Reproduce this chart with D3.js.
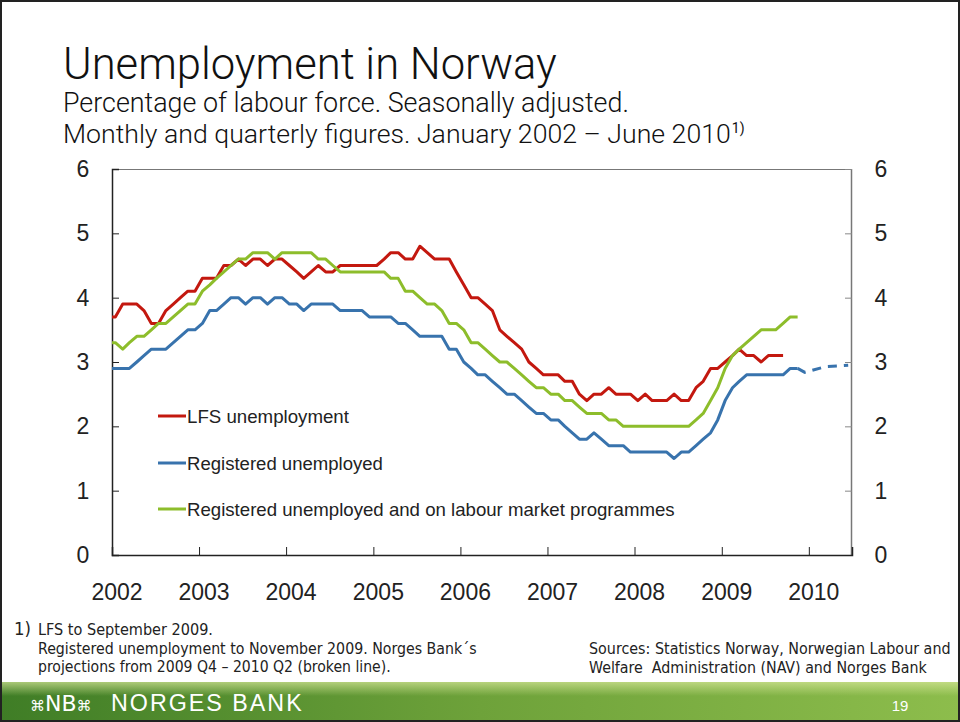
<!DOCTYPE html>
<html>
<head>
<meta charset="utf-8">
<script src="https://cdn.jsdelivr.net/npm/d3@7"></script>
<style>
  html, body { margin: 0; padding: 0; background: #fff; }
  svg { display: block; font-family: "Liberation Sans", Arial, sans-serif; }
  .narrow { font-family: "Liberation Sans Narrow", "DejaVu Sans Condensed", sans-serif; }
</style>
</head>
<body>
<svg id="chart"></svg>
<script>
const W = 960, H = 722;

// Monthly series, first value is December 2001 (the line enters from the left edge)
const firstMonth = '2001-12';
const lfs = [3.7,
  3.7,3.9,3.9,3.9,3.8,3.6,3.6,3.8,3.9,4.0,4.1,4.1,
  4.3,4.3,4.3,4.5,4.5,4.6,4.5,4.6,4.6,4.5,4.6,4.6,
  4.5,4.4,4.3,4.4,4.5,4.4,4.4,4.5,4.5,4.5,4.5,4.5,
  4.5,4.6,4.7,4.7,4.6,4.6,4.8,4.7,4.6,4.6,4.6,4.4,
  4.2,4.0,4.0,3.9,3.8,3.5,3.4,3.3,3.2,3.0,2.9,2.8,
  2.8,2.8,2.7,2.7,2.5,2.4,2.5,2.5,2.6,2.5,2.5,2.5,
  2.4,2.5,2.4,2.4,2.4,2.5,2.4,2.4,2.6,2.7,2.9,2.9,
  3.0,3.1,3.2,3.1,3.1,3.0,3.1,3.1,3.1];
const registered = [2.9,
  2.9,2.9,2.9,3.0,3.1,3.2,3.2,3.2,3.3,3.4,3.5,3.5,
  3.6,3.8,3.8,3.9,4.0,4.0,3.9,4.0,4.0,3.9,4.0,4.0,
  3.9,3.9,3.8,3.9,3.9,3.9,3.9,3.8,3.8,3.8,3.8,3.7,
  3.7,3.7,3.7,3.6,3.6,3.5,3.4,3.4,3.4,3.4,3.2,3.2,
  3.0,2.9,2.8,2.8,2.7,2.6,2.5,2.5,2.4,2.3,2.2,2.2,
  2.1,2.1,2.0,1.9,1.8,1.8,1.9,1.8,1.7,1.7,1.7,1.6,
  1.6,1.6,1.6,1.6,1.6,1.5,1.6,1.6,1.7,1.8,1.9,2.1,
  2.4,2.6,2.7,2.8,2.8,2.8,2.8,2.8,2.8,2.9,2.9];
const regProgrammes = [3.3,
  3.3,3.2,3.3,3.4,3.4,3.5,3.6,3.6,3.7,3.8,3.9,3.9,
  4.1,4.2,4.3,4.4,4.5,4.6,4.6,4.7,4.7,4.7,4.6,4.7,
  4.7,4.7,4.7,4.7,4.6,4.6,4.5,4.4,4.4,4.4,4.4,4.4,
  4.4,4.4,4.3,4.3,4.1,4.1,4.0,3.9,3.9,3.8,3.6,3.6,
  3.5,3.3,3.3,3.2,3.1,3.0,3.0,2.9,2.8,2.7,2.6,2.6,
  2.5,2.5,2.4,2.4,2.3,2.2,2.2,2.2,2.1,2.1,2.0,2.0,
  2.0,2.0,2.0,2.0,2.0,2.0,2.0,2.0,2.1,2.2,2.4,2.6,
  2.9,3.1,3.2,3.3,3.4,3.5,3.5,3.5,3.6,3.7,3.7];

// Norges Bank projection (broken line), joined to the last registered month
const projMonths = ['2009-11', '2009-12', '2010-03', '2010-06'];
const projValues = [2.9, 2.84, 2.93, 2.95];

const yTicks = [0, 1, 2, 3, 4, 5, 6];
const yearLabels = ['2002','2003','2004','2005','2006','2007','2008','2009','2010'];

const seriesNames = ['LFS unemployment', 'Registered unemployed',
  'Registered unemployed and on labour market programmes'];
const seriesColors = ['#c3180f', '#3873ad', '#8dbd2b'];

const parseM = d3.timeParse('%Y-%m');
const mid = m => new Date(m.getFullYear(), m.getMonth(), 15);
const toPts = (vals) => vals.map((v, i) => ({ d: mid(d3.timeMonth.offset(parseM(firstMonth), i)), v }));

const svg = d3.select('#chart').attr('width', W).attr('height', H);
const defs = svg.append('defs');

const x = d3.scaleTime().domain([new Date(2002, 0, 1), new Date(2010, 6, 1)]).range([112, 852]);
const y = d3.scaleLinear().domain([0, 6]).range([555, 169]);

function fit(sel, w) {
  const cur = sel.node().getComputedTextLength();
  sel.attr('font-size', parseFloat(sel.attr('font-size')) * w / cur);
  return sel;
}

// Title block
fit(svg.append('text').attr('x', 63).attr('y', 79).attr('font-size', 40).attr('fill', '#111')
  .attr('font-weight', 300).style('font-family', 'Roboto, "Liberation Sans", sans-serif')
  .text('Unemployment in Norway'), 494);
fit(svg.append('text').attr('x', 63).attr('y', 112).attr('font-size', 24).attr('fill', '#111')
  .attr('font-weight', 300).style('font-family', 'Roboto, "Liberation Sans", sans-serif')
  .text('Percentage of labour force. Seasonally adjusted.'), 566);
const sub2 = fit(svg.append('text').attr('x', 63).attr('y', 143).attr('font-size', 24).attr('fill', '#111')
  .attr('font-weight', 300).style('font-family', 'Roboto, "Liberation Sans", sans-serif')
  .text('Monthly and quarterly figures. January 2002 – June 2010'), 668);
svg.append('text').attr('x', 63 + sub2.node().getComputedTextLength() + 1).attr('y', 133)
  .attr('font-size', 14).attr('fill', '#111').style('font-family', 'Roboto, "Liberation Sans", sans-serif')
  .text('1)');

// Frame
svg.append('line').attr('x1', 112).attr('x2', 852).attr('y1', 169.5).attr('y2', 169.5)
  .attr('stroke', '#777').attr('stroke-width', 1.2);
svg.append('line').attr('x1', 851.5).attr('x2', 851.5).attr('y1', 169).attr('y2', 555)
  .attr('stroke', '#777').attr('stroke-width', 1.5);

// Left axis
const yl = svg.append('g').attr('transform', 'translate(112,0)')
  .call(d3.axisRight(y).tickValues(yTicks).tickSize(7).tickFormat(''));
yl.select('.domain').attr('stroke', '#222').attr('stroke-width', 1.5);
yl.selectAll('.tick line').attr('stroke', '#222');
const yr = svg.append('g').attr('transform', 'translate(852,0)')
  .call(d3.axisLeft(y).tickValues(yTicks).tickSize(7).tickFormat(''));
yr.select('.domain').remove();
yr.selectAll('.tick line').attr('stroke', '#888');

svg.append('g').selectAll('text').data(yTicks).join('text')
  .attr('x', 83).attr('y', d => y(d) + 8).attr('text-anchor', 'middle')
  .attr('font-size', 23).attr('fill', '#222').text(d => d);
svg.append('g').selectAll('text').data(yTicks).join('text')
  .attr('x', 881).attr('y', d => y(d) + 8).attr('text-anchor', 'middle')
  .attr('font-size', 23).attr('fill', '#222').text(d => d);

// Bottom axis
const xb = svg.append('g').attr('transform', 'translate(0,555)')
  .call(d3.axisTop(x).ticks(d3.timeYear.every(1)).tickSize(8).tickFormat(''));
xb.select('.domain').attr('stroke', '#222').attr('stroke-width', 1.5);
xb.selectAll('.tick line').attr('stroke', '#222');
svg.append('g').selectAll('text').data(yearLabels).join('text')
  .attr('x', d => x(new Date(+d, 0, 1)) + 5).attr('y', 600).attr('text-anchor', 'middle')
  .attr('font-size', 23).attr('fill', '#222').text(d => d);

// Lines
defs.append('clipPath').attr('id', 'plot').append('rect')
  .attr('x', 112).attr('y', 169).attr('width', 740).attr('height', 386);
const line = d3.line().x(p => x(p.d)).y(p => y(p.v));
const g = svg.append('g').attr('clip-path', 'url(#plot)');
[lfs, registered, regProgrammes].forEach((vals, i) => {
  g.append('path').datum(toPts(vals)).attr('d', line)
    .attr('fill', 'none').attr('stroke', seriesColors[i]).attr('stroke-width', 3)
    .attr('stroke-linejoin', 'round');
});
g.append('path').datum(projMonths.map((m, i) => ({ d: mid(parseM(m)), v: projValues[i] })))
  .attr('d', line).attr('fill', 'none').attr('stroke', seriesColors[1])
  .attr('stroke-width', 3).attr('stroke-dasharray', '9,7');

// Legend
const legY = [416, 463, 509];
const legW = [162, 196, 488];
seriesNames.forEach((n, i) => {
  svg.append('line').attr('x1', 158).attr('x2', 186).attr('y1', legY[i]).attr('y2', legY[i])
    .attr('stroke', seriesColors[i]).attr('stroke-width', 3);
  fit(svg.append('text').attr('x', 187).attr('y', legY[i] + 7).attr('font-size', 19)
    .attr('fill', '#222').text(n), legW[i]);
});

// Footnotes
const notes = [
  { x: 14, y: 635, t: '1)', w: 17 },
  { x: 38, y: 635, t: 'LFS to September 2009.', w: 175 },
  { x: 38, y: 654, t: 'Registered unemployment to November 2009. Norges Bank´s', w: 439 },
  { x: 38, y: 672, t: 'projections from 2009 Q4 – 2010 Q2 (broken line).', w: 353 },
  { x: 589, y: 654, t: 'Sources: Statistics Norway, Norwegian Labour and', w: 362 },
  { x: 589, y: 673, t: 'Welfare  Administration (NAV) and Norges Bank', w: 338 }
];
notes.forEach(n => {
  fit(svg.append('text').attr('class', 'narrow').attr('x', n.x).attr('y', n.y)
    .attr('font-size', 15).attr('fill', '#222').style('white-space', 'pre').text(n.t), n.w);
});

// Footer band
const gr = defs.append('linearGradient').attr('id', 'band').attr('x1', 0).attr('x2', 1).attr('y1', 0).attr('y2', 0);
gr.append('stop').attr('offset', 0).attr('stop-color', '#3f7d26');
gr.append('stop').attr('offset', 0.5).attr('stop-color', '#6ea23a');
gr.append('stop').attr('offset', 1).attr('stop-color', '#8dbd4c');
const gv = defs.append('linearGradient').attr('id', 'bandHi').attr('x1', 0).attr('x2', 0).attr('y1', 0).attr('y2', 1);
gv.append('stop').attr('offset', 0).attr('stop-color', '#d8e89a').attr('stop-opacity', 0.7);
gv.append('stop').attr('offset', 0.35).attr('stop-color', '#d8e89a').attr('stop-opacity', 0);
svg.append('rect').attr('x', 0).attr('y', 682).attr('width', W).attr('height', 40).attr('fill', 'url(#band)');
svg.append('rect').attr('x', 0).attr('y', 682).attr('width', W).attr('height', 40).attr('fill', 'url(#bandHi)');
svg.append('text').attr('x', 30).attr('y', 711).attr('font-size', 22).attr('fill', '#fff')
  .style('font-family', '"DejaVu Sans", sans-serif').attr('letter-spacing', 0)
  .html('<tspan font-size="15">⌘</tspan>NB<tspan font-size="15">⌘</tspan>');
fit(svg.append('text').attr('x', 111).attr('y', 711).attr('font-size', 22).attr('fill', '#fff')
  .attr('letter-spacing', 2).text('NORGES BANK'), 194);
svg.append('text').attr('x', 900).attr('y', 711).attr('text-anchor', 'middle')
  .attr('font-size', 15).attr('fill', '#fff').text('19');

// Slide border
svg.append('rect').attr('x', 1).attr('y', 1).attr('width', W - 2).attr('height', H - 2)
  .attr('fill', 'none').attr('stroke', '#222').attr('stroke-width', 2);
</script>
</body>
</html>
